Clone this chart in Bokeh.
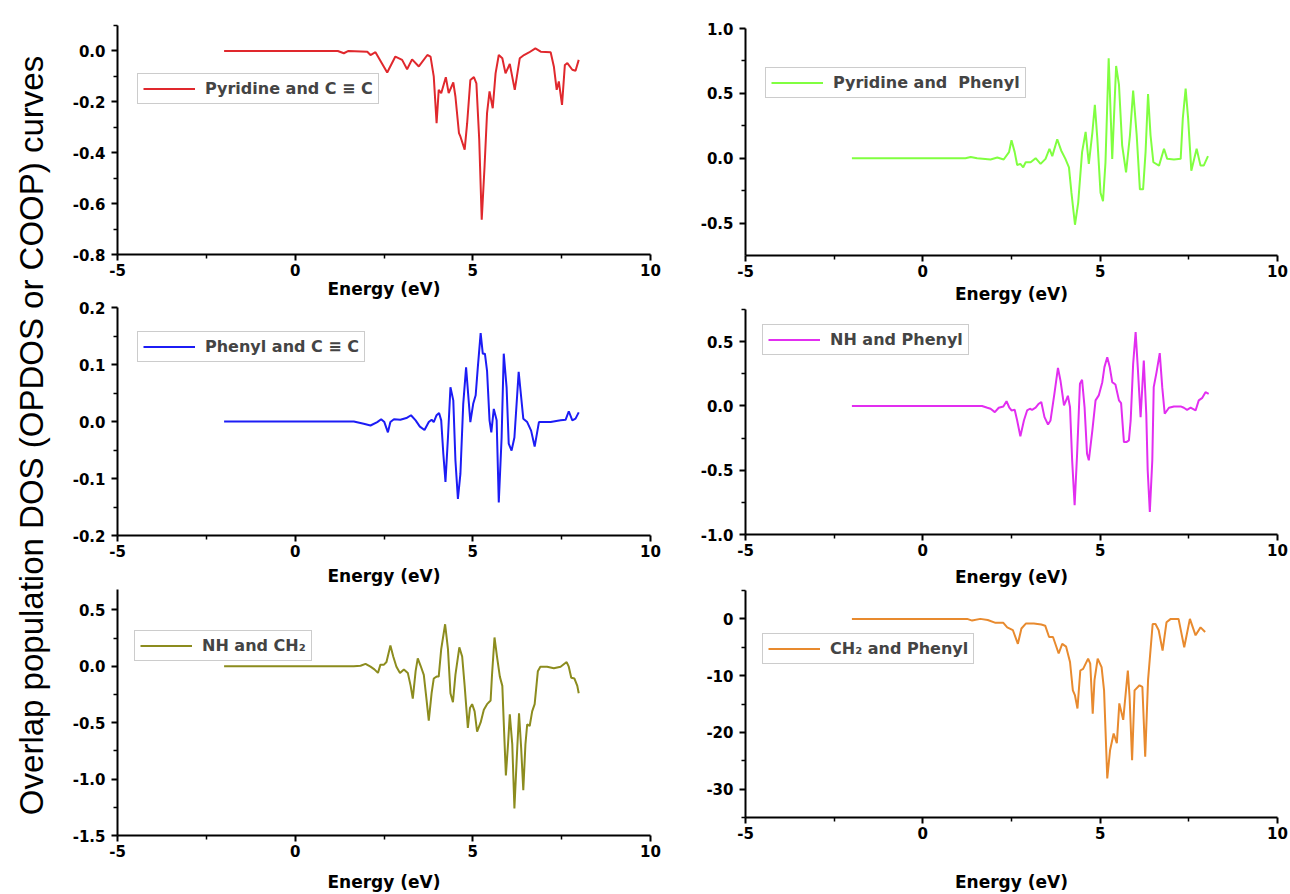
import math
from bokeh.plotting import figure
from bokeh.models import Range1d, FixedTicker, PrintfTickFormatter, Legend, LegendItem, Label
from bokeh.layouts import row, column
from bokeh.embed import file_html
from bokeh.resources import INLINE

# ---- COOP curves: energy (eV) and overlap population ----
pyridine_cc_energy = [-2.0, 1.2, 1.37, 1.5, 2.03, 2.12, 2.26, 2.59, 2.82, 3.01, 3.15, 3.29, 3.48, 3.72, 3.81,
                      3.90, 3.98, 4.04, 4.11, 4.24, 4.32, 4.45, 4.51, 4.61, 4.65, 4.77, 4.84, 4.93, 5.03, 5.10,
                      5.18, 5.25, 5.33, 5.40, 5.47, 5.56, 5.64, 5.73, 5.83, 5.92, 6.04, 6.18, 6.32, 6.44, 6.58,
                      6.76, 6.91, 7.19, 7.28, 7.36, 7.42, 7.51, 7.59, 7.66, 7.80, 7.89, 7.98]
pyridine_cc_coop = [0.0, 0.0, -0.009, 0.0, -0.003, -0.016, -0.005, -0.085, -0.022, -0.035, -0.072, -0.033, -0.061,
                    -0.016, -0.022, -0.10, -0.284, -0.153, -0.166, -0.103, -0.166, -0.124, -0.179, -0.323, -0.336,
                    -0.388, -0.284, -0.114, -0.103, -0.127, -0.349, -0.663, -0.454, -0.244, -0.159, -0.225, -0.088,
                    -0.016, -0.029, -0.088, -0.051, -0.153, -0.029, -0.016, -0.006, 0.010, -0.003, -0.005, -0.061,
                    -0.153, -0.12, -0.212, -0.055, -0.048, -0.074, -0.078, -0.035]

pyridine_phenyl_energy = [-2.0, 1.2, 1.35, 1.53, 1.91, 2.10, 2.28, 2.43, 2.50, 2.59, 2.66, 2.75, 2.83, 2.90, 3.04,
                          3.18, 3.32, 3.46, 3.57, 3.65, 3.79, 3.90, 4.02, 4.12, 4.19, 4.29, 4.38, 4.49, 4.59, 4.68,
                          4.78, 4.85, 4.92, 5.01, 5.08, 5.15, 5.24, 5.34, 5.45, 5.53, 5.62, 5.73, 5.84, 5.93, 6.03,
                          6.12, 6.21, 6.28, 6.35, 6.42, 6.50, 6.66, 6.80, 6.89, 7.08, 7.27, 7.33, 7.41, 7.48, 7.57,
                          7.72, 7.83, 7.92, 8.04]
pyridine_phenyl_coop = [0.0, 0.0, 0.01, 0.0, -0.01, 0.005, -0.01, 0.047, 0.138, 0.047, -0.052, -0.044, -0.07, -0.031,
                        -0.031, 0.0, -0.044, -0.005, 0.073, 0.016, 0.146, 0.06, -0.005, -0.07, -0.266, -0.513, -0.344,
                        0.047, 0.203, -0.044, 0.198, 0.411, 0.151, -0.266, -0.331, -0.031, 0.771, -0.005, 0.711, 0.568,
                        0.099, -0.109, 0.177, 0.521, 0.177, -0.24, -0.24, 0.047, 0.495, 0.177, -0.031, -0.057, 0.073,
                        -0.005, -0.01, -0.005, 0.307, 0.536, 0.307, -0.096, 0.073, -0.057, -0.057, 0.016]

phenyl_cc_energy = [-2.0, 1.65, 1.93, 2.12, 2.31, 2.42, 2.51, 2.61, 2.68, 2.78, 2.96, 3.13, 3.26, 3.39, 3.51, 3.64,
                    3.76, 3.84, 3.90, 3.98, 4.05, 4.11, 4.17, 4.23, 4.30, 4.37, 4.45, 4.51, 4.58, 4.65, 4.73, 4.81,
                    4.89, 4.93, 5.01, 5.08, 5.14, 5.22, 5.28, 5.34, 5.40, 5.47, 5.52, 5.59, 5.67, 5.73, 5.81, 5.87,
                    5.95, 6.01, 6.09, 6.17, 6.29, 6.36, 6.42, 6.53, 6.64, 6.74, 6.86, 6.95, 7.19, 7.47, 7.61, 7.70,
                    7.80, 7.89, 7.98]
phenyl_cc_coop = [0.0, 0.0, -0.004, -0.007, -0.001, 0.004, -0.001, -0.019, -0.001, 0.004, 0.003, 0.006, 0.011, 0.002,
                  -0.009, -0.015, -0.001, 0.003, -0.001, 0.011, 0.015, 0.002, -0.057, -0.106, -0.028, 0.06, 0.037,
                  -0.068, -0.136, -0.092, 0.031, 0.095, 0.031, -0.001, 0.031, 0.046, 0.095, 0.155, 0.119, 0.119,
                  0.089, 0.002, -0.019, 0.022, 0.002, -0.142, -0.028, 0.119, 0.06, -0.039, -0.051, -0.028, 0.087,
                  0.043, 0.005, -0.001, -0.016, -0.044, -0.001, -0.001, -0.001, 0.002, 0.003, 0.018, 0.002, 0.005,
                  0.016]

nh_phenyl_energy = [-2.0, 1.67, 1.82, 1.91, 2.03, 2.14, 2.27, 2.36, 2.44, 2.50, 2.59, 2.66, 2.75, 2.85, 2.94, 3.02,
                    3.08, 3.18, 3.27, 3.34, 3.43, 3.53, 3.60, 3.71, 3.81, 3.88, 3.98, 4.02, 4.09, 4.15, 4.21, 4.28,
                    4.35, 4.43, 4.49, 4.56, 4.63, 4.68, 4.78, 4.87, 4.96, 5.06, 5.12, 5.20, 5.27, 5.34, 5.43, 5.53,
                    5.59, 5.67, 5.74, 5.81, 5.86, 5.93, 6.00, 6.06, 6.14, 6.23, 6.30, 6.34, 6.40, 6.47, 6.51, 6.59,
                    6.68, 6.75, 6.82, 6.94, 7.08, 7.27, 7.36, 7.45, 7.55, 7.69, 7.78, 7.88, 7.97, 8.06]
nh_phenyl_coop = [0.0, 0.0, -0.014, -0.022, -0.048, -0.014, -0.004, 0.037, -0.014, -0.035, -0.030, -0.113, -0.237,
                  -0.113, -0.035, -0.022, -0.030, -0.014, 0.017, 0.030, -0.087, -0.144, -0.113, 0.095, 0.296, 0.198,
                  0.004, 0.030, 0.079, -0.009, -0.423, -0.773, -0.372, 0.172, 0.203, -0.009, -0.372, -0.423, -0.19,
                  0.043, 0.082, 0.185, 0.302, 0.379, 0.302, 0.185, 0.167, 0.043, 0.022, -0.281, -0.281, -0.268,
                  -0.113, 0.327, 0.574, 0.302, -0.087, 0.353, -0.061, -0.5, -0.825, -0.423, 0.146, 0.263, 0.411,
                  0.146, -0.061, -0.014, -0.004, -0.004, -0.014, -0.030, -0.014, -0.035, 0.043, 0.063, 0.107, 0.094]

nh_ch2_energy = [-2.0, 1.65, 1.84, 1.98, 2.12, 2.23, 2.33, 2.40, 2.50, 2.57, 2.68, 2.76, 2.85, 2.95, 3.06, 3.17,
                 3.25, 3.31, 3.39, 3.45, 3.53, 3.62, 3.70, 3.76, 3.84, 3.90, 3.98, 4.04, 4.11, 4.22, 4.30, 4.37,
                 4.44, 4.51, 4.62, 4.70, 4.77, 4.86, 4.92, 4.98, 5.05, 5.12, 5.22, 5.31, 5.40, 5.50, 5.54, 5.61,
                 5.68, 5.76, 5.83, 5.87, 5.93, 5.99, 6.04, 6.11, 6.17, 6.25, 6.30, 6.36, 6.42, 6.48, 6.53, 6.60,
                 6.67, 6.74, 6.83, 6.90, 7.09, 7.28, 7.47, 7.64, 7.70, 7.77, 7.86, 7.94, 7.98]
nh_ch2_coop = [0.0, 0.0, 0.004, 0.021, -0.004, -0.028, -0.059, 0.014, 0.014, 0.037, 0.184, 0.086, -0.004, -0.059,
               -0.028, -0.059, -0.174, -0.287, -0.044, 0.069, 0.004, -0.076, -0.304, -0.482, -0.239, -0.109, -0.092,
               -0.092, 0.151, 0.372, 0.151, -0.239, -0.319, -0.076, 0.167, 0.086, -0.174, -0.547, -0.369, -0.336,
               -0.40, -0.58, -0.498, -0.385, -0.336, -0.304, -0.076, 0.255, 0.086, -0.092, -0.174, -0.498, -0.968,
               -0.693, -0.427, -0.693, -1.26, -0.725, -0.417, -0.725, -1.099, -0.693, -0.514, -0.53, -0.40, -0.336,
               -0.044, -0.004, -0.004, -0.018, -0.004, 0.037, -0.004, -0.102, -0.109, -0.174, -0.239]

ch2_phenyl_energy = [-2.0, 1.25, 1.39, 1.62, 1.83, 2.05, 2.27, 2.38, 2.54, 2.68, 2.78, 2.91, 3.13, 3.34, 3.45, 3.56,
                     3.67, 3.83, 3.93, 4.04, 4.15, 4.23, 4.29, 4.36, 4.44, 4.52, 4.66, 4.72, 4.79, 4.84, 4.93, 5.04,
                     5.11, 5.20, 5.28, 5.38, 5.47, 5.54, 5.65, 5.78, 5.83, 5.90, 5.97, 6.11, 6.19, 6.27, 6.35, 6.48,
                     6.56, 6.65, 6.76, 6.87, 6.99, 7.21, 7.37, 7.53, 7.69, 7.83, 7.96]
ch2_phenyl_coop = [0.0, 0.0, -0.3, 0.0, -0.2, -0.7, -0.7, -1.5, -2.0, -4.4, -1.7, -0.8, -0.8, -1.0, -1.2, -3.2,
                   -3.2, -6.1, -4.4, -4.9, -7.6, -12.6, -13.5, -15.8, -9.1, -8.8, -7.0, -7.9, -16.7, -10.8, -7.0,
                   -8.5, -12.6, -28.1, -23.1, -20.2, -21.9, -14.9, -17.8, -9.1, -13.8, -24.9, -12.6, -11.7, -12.0,
                   -24.3, -10.8, -0.9, -0.9, -2.0, -5.6, -0.6, 0.0, 0.0, -5.0, 0.0, -2.9, -1.5, -2.3]

energy_ticks = [-5, 0, 5, 10]
energy_minor_ticks = [-2.5, 2.5, 7.5]

TICK_FONT = "DejaVu Sans"


def panel(energy, coop, color, name, y_lo, y_hi, y_major, y_minor, fmt,
          width, height, b_left, b_right, b_top, b_bottom, legend_xy, label_standoff):
    p = figure(width=width, height=height, output_backend="svg", toolbar_location=None,
               x_range=Range1d(-5, 10), y_range=Range1d(y_lo, y_hi),
               min_border_left=b_left, min_border_right=b_right,
               min_border_top=b_top, min_border_bottom=b_bottom)
    p.outline_line_color = None
    p.grid.visible = False
    p.background_fill_color = "white"
    p.border_fill_color = "white"

    r = p.line(energy, coop, line_color=color, line_width=2)

    p.xaxis.ticker = FixedTicker(ticks=energy_ticks, minor_ticks=energy_minor_ticks)
    p.yaxis.ticker = FixedTicker(ticks=y_major, minor_ticks=y_minor)
    p.xaxis.formatter = PrintfTickFormatter(format="%d")
    p.yaxis.formatter = PrintfTickFormatter(format=fmt)
    p.xaxis.axis_label = "Energy (eV)"
    p.xaxis.axis_label_standoff = label_standoff
    p.xaxis.axis_label_text_font = TICK_FONT
    p.xaxis.axis_label_text_font_style = "bold"
    p.xaxis.axis_label_text_font_size = "17px"
    p.xaxis.axis_label_text_color = "black"
    for ax in (p.xaxis, p.yaxis):
        ax.axis_line_width = 2
        ax.axis_line_color = "black"
        ax.major_tick_line_width = 2
        ax.minor_tick_line_width = 1.5
        ax.major_tick_in = 0
        ax.major_tick_out = 6
        ax.minor_tick_in = 0
        ax.minor_tick_out = 4
        ax.major_label_text_font = TICK_FONT
        ax.major_label_text_font_style = "bold"
        ax.major_label_text_font_size = "15px"
        ax.major_label_text_color = "black"
    p.xaxis.major_label_standoff = 3
    p.yaxis.major_label_standoff = 6

    leg = Legend(items=[LegendItem(label=name, renderers=[r])], location=legend_xy,
                 label_text_font=TICK_FONT, label_text_font_style="bold", label_text_font_size="16px",
                 border_line_color="#9a9a9a", border_line_width=1.5, background_fill_color="white",
                 background_fill_alpha=1.0, padding=5, margin=0, spacing=0,
                 glyph_width=52, glyph_height=17, label_height=17, label_standoff=10)
    p.add_layout(leg)
    return p


tl = panel(pyridine_cc_energy, pyridine_cc_coop, "#e0282d", "Pyridine and C \u2261 C",
           -0.8, 0.1, [-0.8, -0.6, -0.4, -0.2, 0.0], [-0.7, -0.5, -0.3, -0.1, 0.1], "%.1f",
           630, 301, 57, 40, 25, 47, (20, 150), 0)
ml = panel(phenyl_cc_energy, phenyl_cc_coop, "#1c1cf5", "Phenyl and C \u2261 C",
           -0.2, 0.2, [-0.2, -0.1, 0.0, 0.1, 0.2], [-0.15, -0.05, 0.05, 0.15], "%.1f",
           630, 287, 57, 40, 6, 53, (20, 173), 6)
bl = panel(nh_ch2_energy, nh_ch2_coop, "#8c8c1e", "NH and CH\u2082",
           -1.5, 0.68, [-1.5, -1.0, -0.5, 0.0, 0.5], [-1.25, -0.75, -0.25, 0.25], "%.1f",
           630, 306, 57, 40, 1, 59, (17, 174), 12)

tr = panel(pyridine_phenyl_energy, pyridine_phenyl_coop, "#80ff40", "Pyridine and  Phenyl",
           -0.75, 1.0, [-0.5, 0.0, 0.5, 1.0], [-0.25, 0.25, 0.75], "%.1f",
           600, 306, 55, 13, 28, 51, (20, 157), 4)
mr = panel(nh_phenyl_energy, nh_phenyl_coop, "#e22ef0", "NH and Phenyl",
           -1.0, 0.75, [-1.0, -0.5, 0.0, 0.5], [-0.75, -0.25, 0.25, 0.75], "%.1f",
           600, 283, 55, 13, 3, 55, (17, 179), 8)
br = panel(ch2_phenyl_energy, ch2_phenyl_coop, "#e88a2e", "CH\u2082 and Phenyl",
           -35, 5, [-30, -20, -10, 0], [-35, -25, -15, -5, 5], "%d",
           600, 305, 55, 13, 1, 77, (17, 153), 30)

# shared vertical title on the far left
side = figure(width=60, height=894, output_backend="svg", toolbar_location=None,
              x_range=Range1d(0, 1), y_range=Range1d(0, 1),
              x_axis_location=None, y_axis_location=None, min_border=0)
side.outline_line_color = None
side.grid.visible = False
side.add_layout(Label(x=31, y=459, x_units="screen", y_units="screen",
                      text="Overlap population DOS (OPDOS or COOP) curves",
                      angle=math.pi / 2, text_align="center", text_baseline="middle",
                      text_font="Liberation Sans", text_font_size="33px", text_color="black"))

layout = row(side, column(tl, ml, bl, spacing=0), column(tr, mr, br, spacing=0), spacing=0)

open("out.html", "w").write(file_html(layout, INLINE))
